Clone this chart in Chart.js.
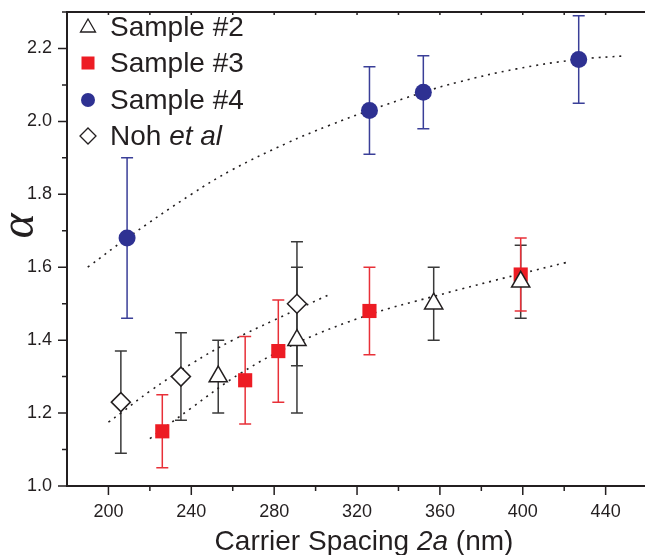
<!DOCTYPE html>
<html>
<head>
<meta charset="utf-8">
<script src="https://cdn.jsdelivr.net/npm/chart.js@4.4.0/dist/chart.umd.min.js"></script>
<style>
  html, body { margin: 0; padding: 0; background: #fff; }
  #wrap { width: 645px; height: 555px; }
</style>
</head>
<body>
<div id="wrap"><canvas id="chart" width="645" height="555"></canvas></div>
<script>
// measured points (x = carrier spacing 2a in nm, y = alpha)
const sample2X = [253, 291, 357, 399];
const sample2Y = [1.30, 1.40, 1.50, 1.56];
const sample2Err = [0.10, 0.20, 0.10, 0.10];

const sample3X = [226, 266, 282, 326, 399];
const sample3Y = [1.15, 1.29, 1.37, 1.48, 1.58];
const sample3Err = [0.10, 0.12, 0.14, 0.12, 0.10];

const sample4X = [209, 326, 352, 427];
const sample4Y = [1.68, 2.03, 2.08, 2.17];
const sample4Err = [0.22, 0.12, 0.10, 0.12];

const nohX = [206, 235, 291];
const nohY = [1.23, 1.30, 1.50];
const nohErr = [0.14, 0.12, 0.17];

// dotted guide curves
const fitUpperX = [190, 209, 240, 260, 286, 307, 326, 352, 369, 397, 427, 450];
const fitUpperY = [1.60, 1.68, 1.80, 1.868, 1.94, 1.99, 2.03, 2.08, 2.108, 2.144, 2.17, 2.18];
const fitMidX = [200, 206, 220, 240, 260, 280, 307];
const fitMidY = [1.175, 1.20, 1.26, 1.335, 1.40, 1.455, 1.526];
const fitLowX = [220, 240, 264, 292, 326, 357, 399, 421];
const fitLowY = [1.13, 1.214, 1.31, 1.395, 1.47, 1.52, 1.582, 1.613];

// axis ticks
const xMajor = [200, 240, 280, 320, 360, 400, 440];
const xMinor = [220, 260, 300, 340, 380, 420];
const yMajor = [1.0, 1.2, 1.4, 1.6, 1.8, 2.0, 2.2];
const yMinor = [1.1, 1.3, 1.5, 1.7, 1.9, 2.1, 2.3];

const ink = "#231f20";
const red = "#ed1c24";
const blue = "#2e3192";

function pts(xs, ys) {
	return xs.map((x, i) => ({ x: x, y: ys[i] }));
}

function fitLine(xs, ys) {
	return {
		data: pts(xs, ys),
		showLine: true,
		borderColor: ink,
		borderWidth: 1.6,
		borderDash: [2, 5],
		pointRadius: 0,
		tension: 0.4,
		fill: false,
	};
}

function noPad(s) {
	s.paddingLeft = 0; s.paddingRight = 0; s.paddingTop = 0; s.paddingBottom = 0;
}

const datasets = [
	{ label: "Sample #2", data: pts(sample2X, sample2Y), err: sample2Err, errColor: "#3a3a3a",
		pointStyle: "triangle", pointRadius: 10.5, backgroundColor: "#fff", borderColor: ink, borderWidth: 1.5 },
	{ label: "Sample #3", data: pts(sample3X, sample3Y), err: sample3Err, errColor: "#e83038",
		pointStyle: "rect", pointRadius: 10, backgroundColor: red, borderColor: red, borderWidth: 0 },
	{ label: "Sample #4", data: pts(sample4X, sample4Y), err: sample4Err, errColor: "#3a3f98",
		pointStyle: "circle", pointRadius: 8.5, backgroundColor: blue, borderColor: blue, borderWidth: 0 },
	{ label: "Noh et al", data: pts(nohX, nohY), err: nohErr, errColor: "#3a3a3a",
		pointStyle: "rectRot", pointRadius: 9.5, backgroundColor: "#fff", borderColor: ink, borderWidth: 1.5 },
	fitLine(fitUpperX, fitUpperY),
	fitLine(fitMidX, fitMidY),
	fitLine(fitLowX, fitLowY),
];

// error bars, frame ticks, titles and legend
const overlay = {
	id: "overlay",
	beforeDatasetsDraw(chart) {
		const ctx = chart.ctx;
		const xs = chart.scales.x, ys = chart.scales.y;
		ctx.save();
		chart.data.datasets.forEach((ds) => {
			if (!ds.err) return;
			ctx.strokeStyle = ds.errColor;
			ctx.lineWidth = 1.5;
			ds.data.forEach((p, i) => {
				const px = xs.getPixelForValue(p.x);
				const top = ys.getPixelForValue(p.y + ds.err[i]);
				const bot = ys.getPixelForValue(p.y - ds.err[i]);
				ctx.beginPath();
				ctx.moveTo(px, top); ctx.lineTo(px, bot);
				ctx.moveTo(px - 6, top); ctx.lineTo(px + 6, top);
				ctx.moveTo(px - 6, bot); ctx.lineTo(px + 6, bot);
				ctx.stroke();
			});
		});
		ctx.restore();
	},
	afterDraw(chart) {
		const ctx = chart.ctx;
		const a = chart.chartArea;
		const xs = chart.scales.x, ys = chart.scales.y;
		ctx.save();
		ctx.strokeStyle = ink;
		ctx.lineWidth = 2;
		ctx.beginPath();
		ctx.moveTo(a.left - 1, a.top); ctx.lineTo(a.right, a.top);
		ctx.stroke();

		ctx.lineWidth = 1.5;
		ctx.beginPath();
		xMajor.forEach((v) => {
			const px = xs.getPixelForValue(v);
			ctx.moveTo(px, a.bottom); ctx.lineTo(px, a.bottom + 9);
			ctx.moveTo(px, a.top); ctx.lineTo(px, a.top + 3);
		});
		xMinor.forEach((v) => {
			const px = xs.getPixelForValue(v);
			ctx.moveTo(px, a.bottom); ctx.lineTo(px, a.bottom + 5);
			ctx.moveTo(px, a.top); ctx.lineTo(px, a.top + 3);
		});
		yMajor.forEach((v) => {
			const py = ys.getPixelForValue(v);
			ctx.moveTo(a.left, py); ctx.lineTo(a.left - 9, py);
		});
		yMinor.forEach((v) => {
			const py = ys.getPixelForValue(v);
			ctx.moveTo(a.left, py); ctx.lineTo(a.left - 5, py);
		});
		ctx.stroke();

		// y title
		ctx.fillStyle = ink;
		ctx.save();
		ctx.translate(33, 226);
		ctx.rotate(-Math.PI / 2);
		ctx.font = "italic 48px 'Liberation Serif', 'DejaVu Serif', serif";
		ctx.textAlign = "center";
		ctx.textBaseline = "alphabetic";
		ctx.fillText("α", 0, 0);
		ctx.restore();

		// x title with italic 2a
		const normal = "28px 'Liberation Sans', Arial, sans-serif";
		const italic = "italic 28px 'Liberation Sans', Arial, sans-serif";
		const parts = [["Carrier Spacing ", normal], ["2a", italic], [" (nm)", normal]];
		let total = 0;
		parts.forEach((p) => { ctx.font = p[1]; total += ctx.measureText(p[0]).width; });
		let tx = 364 - total / 2;
		ctx.textAlign = "left";
		ctx.textBaseline = "alphabetic";
		parts.forEach((p) => {
			ctx.font = p[1];
			ctx.fillText(p[0], tx, 550);
			tx += ctx.measureText(p[0]).width;
		});

		// legend
		const lx = 88, rows = [27, 63, 100, 136];
		ctx.lineWidth = 1.3;
		ctx.strokeStyle = ink; ctx.fillStyle = "#fff";
		ctx.beginPath();
		ctx.moveTo(lx, rows[0] - 8); ctx.lineTo(lx + 7.5, rows[0] + 5); ctx.lineTo(lx - 7.5, rows[0] + 5);
		ctx.closePath(); ctx.fill(); ctx.stroke();
		ctx.fillStyle = red;
		ctx.fillRect(lx - 6.5, rows[1] - 6.5, 13, 13);
		ctx.fillStyle = blue;
		ctx.beginPath(); ctx.arc(lx, rows[2], 7, 0, Math.PI * 2); ctx.fill();
		ctx.fillStyle = "#fff";
		ctx.beginPath();
		ctx.moveTo(lx, rows[3] - 8); ctx.lineTo(lx + 8, rows[3]); ctx.lineTo(lx, rows[3] + 8); ctx.lineTo(lx - 8, rows[3]);
		ctx.closePath(); ctx.fill(); ctx.stroke();

		ctx.fillStyle = ink;
		ctx.textBaseline = "middle";
		ctx.font = normal;
		ctx.fillText("Sample #2", 110, rows[0] + 1);
		ctx.fillText("Sample #3", 110, rows[1] + 1);
		ctx.fillText("Sample #4", 110, rows[2] + 1);
		ctx.fillText("Noh ", 110, rows[3] + 1);
		const w = ctx.measureText("Noh ").width;
		ctx.font = italic;
		ctx.fillText("et al", 110 + w, rows[3] + 1);
		ctx.restore();
	},
};

new Chart(document.getElementById("chart"), {
	type: "scatter",
	data: { datasets: datasets },
	options: {
		responsive: false,
		animation: false,
		layout: { autoPadding: false, padding: { top: 12, right: 0, left: 0, bottom: 0 } },
		plugins: { legend: { display: false }, tooltip: { enabled: false } },
		scales: {
			x: {
				type: "linear",
				min: 180,
				max: 459,
				afterBuildTicks: (s) => { s.ticks = xMajor.map((v) => ({ value: v })); },
				afterFit: (s) => { s.height = 69; noPad(s); },
				grid: { display: false, drawTicks: false },
				border: { display: true, color: ink, width: 2 },
				ticks: { color: ink, padding: 15, maxRotation: 0, font: { family: "'Liberation Sans', Arial, sans-serif", size: 18 } },
			},
			y: {
				type: "linear",
				min: 1.0,
				max: 2.3,
				afterBuildTicks: (s) => { s.ticks = yMajor.map((v) => ({ value: v })); },
				afterFit: (s) => { s.width = 67; noPad(s); },
				grid: { display: false, drawTicks: false },
				border: { display: true, color: ink, width: 2 },
				ticks: { color: ink, padding: 15, callback: (v) => v.toFixed(1), font: { family: "'Liberation Sans', Arial, sans-serif", size: 18 } },
			},
		},
	},
	plugins: [overlay],
});
</script>
</body>
</html>
